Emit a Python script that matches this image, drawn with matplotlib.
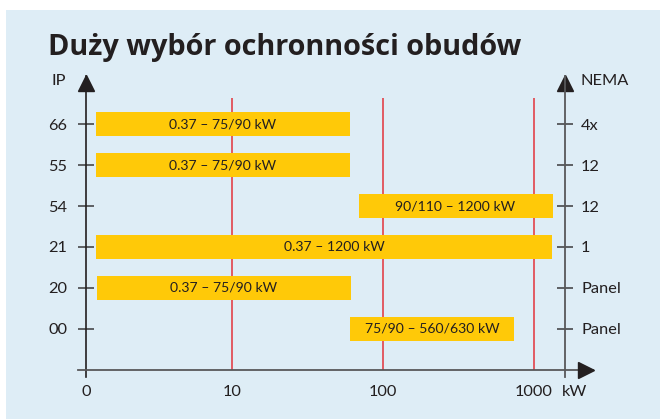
import matplotlib
matplotlib.use("Agg")
import matplotlib.pyplot as plt
import numpy as np
from matplotlib.patches import Rectangle

# ---- data ----
ip_labels = ["00", "20", "21", "54", "55", "66"]
nema_labels = ["Panel", "Panel", "1", "12", "12", "4x"]
bar_start = [60.4, 1.27, 1.26, 69.3, 1.26, 1.26]      # kW (axis position)
bar_end = [740.0, 61.0, 1320.0, 1336.0, 60.4, 60.4]   # kW (axis position)
bar_text = ["75/90 – 560/630 kW", "0.37 – 75/90 kW", "0.37 – 1200 kW",
            "90/110 – 1200 kW", "0.37 – 75/90 kW", "0.37 – 75/90 kW"]
label_x = [213.0, 8.8, 48.0, 298.0, 8.7, 8.7]          # kW (label centre)
x_ticks = [1.079, 10, 100, 1000]
x_tick_labels = ["0", "10", "100", "1000"]
red_lines = [10, 100, 1000]

BG = "#deedf6"
YEL = "#ffc908"
RED = "#e3333b"
TXT = "#231f20"
GREY = "#58585a"
FONT = "Lato"

W, H = 660, 419
fig = plt.figure(figsize=(W / 100, H / 100), dpi=100)
fig.patch.set_facecolor("white")
bg = Rectangle((6 / W, 0), 654 / W, 409 / H, transform=fig.transFigure,
               facecolor=BG, edgecolor="none", zorder=-10)
fig.add_artist(bg)

ax = fig.add_axes([78 / W, 1 - 377 / H, 515 / W, 301 / H])
ax.patch.set_visible(False)
ax.set_xscale("log")
ax.set_xlim(0.955, 2459)
ax.set_ylim(-1.171, 6.171)

y = np.arange(len(ip_labels))
left = np.array(bar_start)
width = np.array(bar_end) - left
ax.barh(y, width, left=left, height=0.585, color=YEL, zorder=3)
for yi, lx, t in zip(y, label_x, bar_text):
    ax.text(lx, yi, t, ha="center", va="center", fontsize=10.1, color=TXT,
            family=FONT, zorder=4)

ax.vlines(red_lines, -1, 5.634, color=RED, lw=1.1, zorder=2)

# spines
for s in ["top", "right"]:
    ax.spines[s].set_visible(False)
ax.spines["left"].set_position(("data", 1.079))
ax.spines["left"].set_color(TXT)
ax.spines["left"].set_linewidth(1.2)
ax.spines["bottom"].set_position(("data", -1))
ax.spines["bottom"].set_color(GREY)
ax.spines["bottom"].set_linewidth(1.3)

ax.set_yticks(y, ip_labels)
ax.tick_params(axis="y", direction="inout", length=11.5, width=1.1, color="#3a3a3c",
               pad=7.9, labelsize=11.8, labelcolor=TXT)
ax.set_xticks(x_ticks, x_tick_labels)
ax.xaxis.set_minor_locator(matplotlib.ticker.NullLocator())
ax.tick_params(axis="x", length=0, pad=11.0, labelsize=11.8, labelcolor=TXT)
for lab in ax.get_xticklabels() + ax.get_yticklabels():
    lab.set_family(FONT)

ax2 = ax.twinx()
ax2.set_ylim(ax.get_ylim())
for s in ["top", "left", "bottom"]:
    ax2.spines[s].set_visible(False)
ax2.spines["right"].set_position(("data", 1604))
ax2.spines["right"].set_color(GREY)
ax2.spines["right"].set_linewidth(1.3)
ax2.set_yticks(y, nema_labels)
ax2.tick_params(axis="y", direction="inout", length=11.5, width=1.1, color="#3a3a3c",
                pad=5.8, labelsize=11.8, labelcolor=TXT)
for lab in ax2.get_yticklabels():
    lab.set_family(FONT)

# arrow heads
ax.plot([1.079], [6.0], marker="^", ms=12, color=TXT, clip_on=False, zorder=5)
ax.plot([1604], [6.0], marker="^", ms=12, color=TXT, clip_on=False, zorder=5)
ax.plot([2208], [-1], marker=">", ms=12, color=TXT, clip_on=False, zorder=5)

# texts
fig.text(48 / W, 1 - 54.5 / H, "Duży wybór ochronności obudów", fontsize=20.8,
         fontweight="bold", family="Open Sans", color=TXT, ha="left", va="baseline")
fig.text(66 / W, 1 - 81 / H, "IP", fontsize=11.8, family=FONT, color=TXT,
         ha="right", va="center")
fig.text(581 / W, 1 - 81 / H, "NEMA", fontsize=11.8, family=FONT, color=TXT,
         ha="left", va="center")
fig.text(562 / W, 1 - 392 / H, "kW", fontsize=11.8, family=FONT, color=TXT,
         ha="left", va="center")

fig.savefig("out.png", dpi=100, facecolor="white")
